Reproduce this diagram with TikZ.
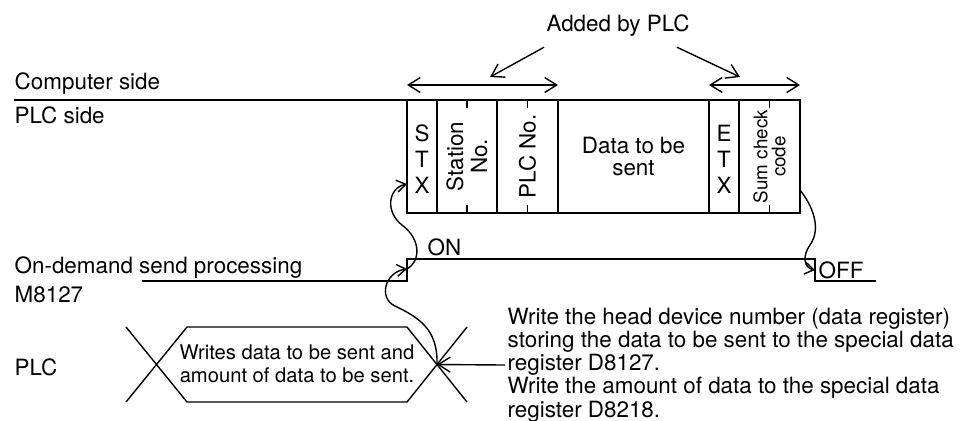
\documentclass[tikz,border=0pt]{standalone}
\usepackage{fontspec}
\setmainfont{TeX Gyre Heros}
\usetikzlibrary{arrows.meta,positioning,calc}

\begin{document}
\begin{tikzpicture}[
    x=0.5pt,y=-0.5pt,
    font=\fontsize{11.2}{10.4}\selectfont,
    line width=0.7pt,
    >={Straight Barb[length=6pt,width=7.5pt]},
    side/.style={anchor=base west,inner sep=0pt},
    field/.style={draw,minimum height=56.5pt,inner sep=0pt,outer sep=0pt,anchor=north west},
    stacked/.style={align=center,inner sep=0pt,font=\fontsize{11.2}{13}\selectfont},
    upright/.style={rotate=90,align=center,inner sep=0pt,font=\fontsize{11.2}{12}\selectfont},
    note/.style={align=left,inner sep=1pt},
    hook/.style={-{Straight Barb[length=4.5pt,width=6pt]}}
]

\useasboundingbox (0,0) rectangle (962,420);

% Row titles
\node[side] (computer) at (14,89) {Computer side};
\node[side] (plcside) at (14,123) {PLC side};
\node[side] (ondemand) at (14,273) {On-demand send processing};
\node[side] (m8127) at (14,302) {M8127};
\node[side] (plc) at (14,375) {PLC};

% Message frame
\node[field,minimum width=15pt] (stx) at (407,100) {};
\node[field,minimum width=30pt,right=0pt of stx] (station) {};
\node[field,minimum width=30.5pt,right=0pt of station] (plcno) {};
\node[field,minimum width=75.5pt,right=0pt of plcno] (data) {};
\node[field,minimum width=15pt,right=0pt of data] (etx) {};
\node[field,minimum width=30.5pt,right=0pt of etx] (sum) {};

\draw (computer.base west |- stx.north west) -- (sum.north east);

\foreach \f in {station,plcno,sum} {
    \draw (\f.north) -- ++(0,8);
    \draw (\f.south) -- ++(0,-8);
}

\node[stacked,yshift=-1.5pt] (stxtext) at (stx) {S\\T\\X};
\node[upright] (stationtext) at (station) {Station\\No.};
\node[upright] (plcnotext) at (plcno) {PLC No.};
\node[align=center,inner sep=0pt,font=\fontsize{11.2}{10.8}\selectfont] (datatext) at (data) {Data to be\\sent};
\node[stacked,yshift=-1.5pt] (etxtext) at (etx) {E\\T\\X};
\node[upright,font=\fontsize{9.4}{9}\selectfont] (sumtext) at (sum) {Sum check\\code};

% Added by PLC
\node (added) at (618,26) {Added by PLC};

\draw[<->] ($(stx.north west)+(0,-15)$) -- ($(plcno.north east)+(0,-15)$);
\draw[<->] ($(etx.north west)+(0,-15)$) -- ($(sum.north east)+(0,-15)$);

\coordinate (lefttip) at (490,77);
\coordinate (righttip) at (740,77);
\draw[->] ([shift={(5,3)}]added.south west) -- (lefttip);
\draw[->] ([shift={(-20,3)}]added.south east) -- (righttip);

% M8127 signal
\draw (142,281) -- (407,281) -- (407,259) -- (815,259) -- (815,281) -- (876,281);
\coordinate (rise) at (407,269);
\coordinate (fall) at (815,270);

\node[side] (on) at (427,255) {ON};
\node[side] (off) at (818,278) {OFF};

% PLC writes
\draw (126,327) -- (187,402) -- (407,402) -- (467,327);
\draw (126,402) -- (187,327) -- (407,327) -- (467,402);
\coordinate (cross) at (437,364.5);

\node[align=center,inner sep=0pt,font=\fontsize{10.1}{11.5}\selectfont] (writes) at (297,364)
    {Writes data to be sent and\\amount of data to be sent.};

\node[note,anchor=west] (writenote) at (505,365)
{Write the head device number (data register)\\
storing the data to be sent to the special data\\
register D8127.\\
Write the amount of data to the special data\\
register D8218.};

\draw[->] (writenote.west) -- (cross);

% Sequence
\coordinate (stxin) at (stx.west |- 0,184);
\coordinate (sumout) at (sum.east |- 0,190);

\draw[hook] (cross) .. controls (438,330) and (420,318) .. (395,306)
    .. controls (378,298) and (385,272) .. (rise);
\draw[hook] (rise) .. controls (420,262) and (422,240) .. (402,225)
    .. controls (385,212) and (388,188) .. (stxin);
\draw[hook] (sumout) .. controls (812,205) and (822,228) .. (810,245)
    .. controls (802,256) and (804,268) .. (fall);

\end{tikzpicture}
\end{document}
